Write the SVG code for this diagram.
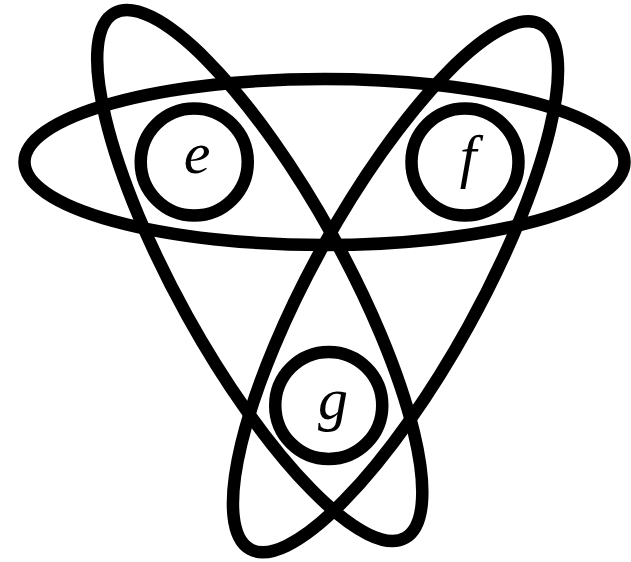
<svg xmlns="http://www.w3.org/2000/svg" width="631" height="562" viewBox="0 0 631 562">
<style>
.ring{fill:none;stroke:#000;stroke-width:12.5}
.lbl{font-family:"Liberation Serif","DejaVu Serif",serif;font-style:italic;font-size:60px;fill:#000;text-anchor:middle}
</style>
<rect width="631" height="562" fill="#fff"/>
<g id="connectors">
<ellipse id="ellipse-top" class="ring" cx="324.5" cy="162" rx="300" ry="83"/>
<ellipse id="ellipse-left" class="ring" cx="259.75" cy="275.5" rx="300" ry="83" transform="rotate(61 259.75 275.5)"/>
<ellipse id="ellipse-right" class="ring" cx="395.5" cy="286.75" rx="300" ry="83" transform="rotate(-61 395.5 286.75)"/>
</g>
<g id="node-e">
<circle class="ring" cx="194.25" cy="162" r="53.5"/>
<text class="lbl" x="197" y="173">e</text>
</g>
<g id="node-f">
<circle class="ring" cx="465" cy="162" r="53.5"/>
<text class="lbl" x="468" y="176">f</text>
</g>
<g id="node-g">
<circle class="ring" cx="328.75" cy="405.4" r="53.5"/>
<text class="lbl" x="333" y="419">g</text>
</g>
</svg>
